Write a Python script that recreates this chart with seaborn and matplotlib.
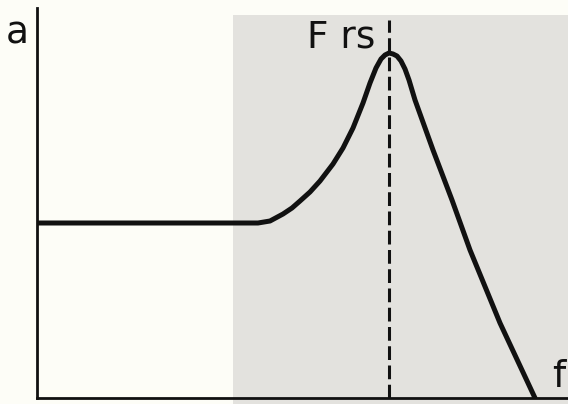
import numpy as np
import pandas as pd
import seaborn as sns
import matplotlib.pyplot as plt
from matplotlib.patches import Rectangle

# response curve (arbitrary units)
freq = [0, 221, 233, 246, 255, 263, 273, 283, 296, 306, 316, 326, 333,
        339, 344, 348, 352, 356, 360, 364, 368, 372, 378, 396, 415, 433,
        463, 498]
amp = [175, 175, 177, 184, 190, 197, 206, 217, 234, 250, 270, 295, 315,
       330, 339, 343, 345, 344, 342, 337, 329, 318, 298, 248, 198, 148,
       75, 0]
dash_top = 378

y_label = "a"
x_label = "f"
peak_label = "F rs"

sns.set_theme(style="white")
plt.rcParams['font.family'] = ['DejaVu Sans']

fig = plt.figure(figsize=(5.68, 4.04), dpi=100, facecolor='#fdfdf7')
ax = fig.add_axes([37 / 568, 6 / 404, 531 / 568, 390 / 404])
ax.set_facecolor('none')

# scanned page: grey shade over the right part
ax.add_patch(Rectangle((196, -20), 400, 403, facecolor='#e3e2de',
                       edgecolor='none', zorder=0, clip_on=False))

df = pd.DataFrame({'freq': freq, 'amp': amp})
sns.lineplot(data=df, x='freq', y='amp', ax=ax, color='#111111', lw=3.6,
             estimator=None, sort=False, zorder=3,
             solid_joinstyle='round', solid_capstyle='round')

frs = df.loc[df['amp'].idxmax(), 'freq']
ax.plot([frs, frs], [0, dash_top], color='#111111', lw=2.2,
        dashes=(4.5, 1.8), zorder=2)

ax.set_xlim(0, 531)
ax.set_ylim(0, 390)
ax.set_xticks([])
ax.set_yticks([])
ax.set_xlabel('')
ax.set_ylabel('')
for side in ['top', 'right']:
    ax.spines[side].set_visible(False)
for side in ['left', 'bottom']:
    ax.spines[side].set_color('#111111')
    ax.spines[side].set_linewidth(2.0)

ax.text(-31, 355, y_label, fontsize=27, color='#111111', va='baseline',
        ha='left', clip_on=False)
ax.text(270, 351, peak_label, fontsize=27, color='#111111', va='baseline',
        ha='left')
ax.text(515, 11, x_label, fontsize=27, color='#111111', va='baseline',
        ha='left', clip_on=False)

fig.savefig('out.png', dpi=100, facecolor=fig.get_facecolor())
